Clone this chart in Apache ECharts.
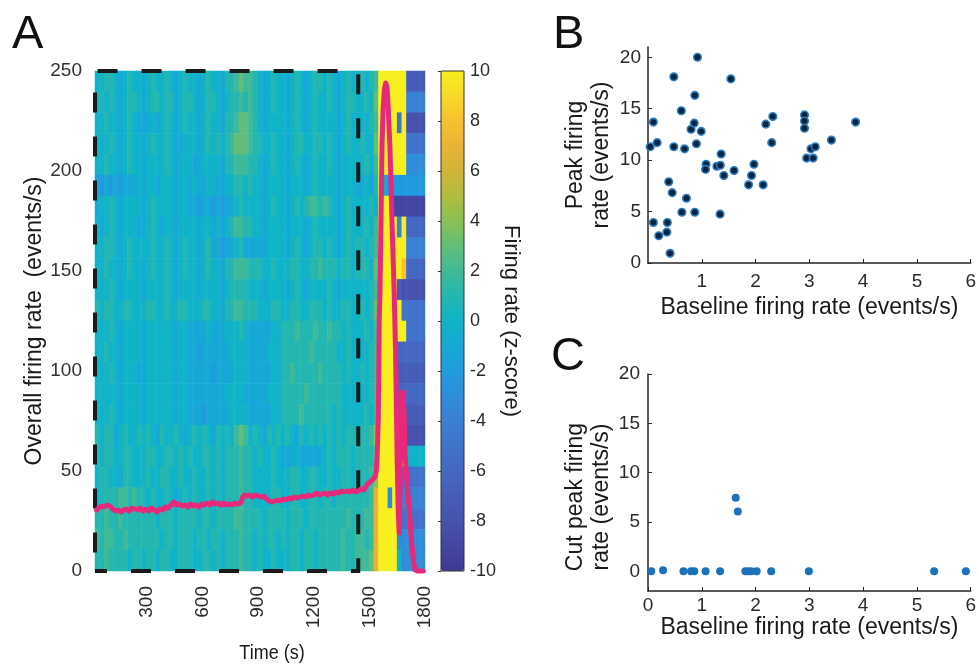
<!DOCTYPE html>
<html><head><meta charset="utf-8">
<script src="https://cdn.jsdelivr.net/npm/echarts@6/dist/echarts.min.js"></script>
<style>html,body{margin:0;padding:0;background:#fff}#c{width:979px;height:666px}</style>
</head><body><div id="c"></div>
<script>
const FONT = "'Liberation Sans', Arial, Helvetica, sans-serif";

// ---------- Panel A: overall firing rate (events/s) over time (s) ----------
const rateTimes = [28,40,55,70,85,100,115,130,145,160,175,190,205,220,235,250,265,280,295,310,325,340,355,370,385,400,415,430,445,460,475,490,505,520,535,550,565,580,595,610,625,640,655,670,685,700,715,730,745,760,775,790,805,815,825,840,855,870,885,900,915,930,945,960,975,990,1005,1020,1035,1050,1065,1080,1095,1110,1125,1140,1155,1170,1185,1200,1215,1230,1245,1260,1275,1290,1305,1320,1335,1350,1365,1380,1395,1410,1425,1440,1455,1470,1480,1490,1500,1510,1520,1530,
  1537,1541,1545,1548,1551,1553,1557,1562,1568,1574,1581,1588,1595,1601,1606,1611,1622,1634,1641,1646,1650,1655,1661,1664,1667,1671,1675,1679,1683,1688,1692,1700,1710,1719,1728,1738,1746,1760,1775,1790];
const rateValues = [30.5,31.5,32.5,32,33,32.5,31,30,30.5,29.5,30.5,31,30,31.5,31,30.5,31.5,30,31,30,31.5,30.5,29.5,31,30.5,32,31.5,33,34.5,33,33.5,32.5,33,32,33.5,32.5,33,32,33.5,33,34,33,34.5,33.5,34,33,34,33,33.5,33,34,33.5,34,36.5,38,37.5,38,37,38,37.5,37,37.5,36,35,34.5,35,35.5,35,36,35.5,36.5,36,37,36.5,37,37.5,37,38,37.5,38,39,38,38.5,39,38,39,38.5,39.5,39,40,39.5,40,39.5,40.5,39.5,40,41,40.5,42,43.5,44,45,46,47,
  50,55.5,66,75.5,100,125.5,139,170,212,231,241,244,242,233,222,212,175,139,110,80,55,32,19,35,55,75,86,89.5,87.5,76,59,48,36,25.5,14,5,0.5,0,0,0];
const timeTicks = [300, 600, 900, 1200, 1500, 1800];
const baselineWindow = [20, 1440];   // dashed box (s)

// ---------- Panel A heatmap: z-scored firing rate, 24 rows x 71 time bins ----------
const heatRows = [
 [0,0,1,1,0,-1,0,1,0,0, -1,0,1,0,0,1,0,-1,0,1, 0,0,-1,0,1,0,0,-1,1,1, 2,3,2,2,1,0,-1,0,1,0, 0,-1,0,1,0,-1,0,1,1,0, 1,0,-1,0,1,0,0, 1,0,1,2,10,10,10,10,10,10,-7,-7,-7,-7],
 [0,1,0,1,0,-1,0,1,1,0, -1,0,1,1,0,1,1,-1,0,1, 1,0,-1,0,1,1,0,-1,0,1, 1,2,1,2,1,0,-1,0,1,0, 0,-1,0,1,0,-1,0,1,0,0, 1,0,-1,0,1,1,0, 0,1,0,3,10,10,10,10,10,10,-4,-4,-4,-4],
 [0,0,1,0,0,-1,0,1,0,-1, -1,-1,0,-1,0,1,0,-1,0,1, 0,0,-1,0,1,0,0,-1,1,1, 2,3,3,2,1,0,-1,0,0,0, 0,-1,0,1,0,-1,0,1,0,0, 0,0,-1,0,1,0,0, 0,0,1,2,10,10,10,10,-5,10,-8,-8,-8,-8],
 [0,0,0,1,0,-1,0,1,0,0, -1,0,1,0,0,1,0,-1,-1,0, 0,0,-1,0,1,0,1,0,1,2, 3,3,3,2,1,1,0,0,1,0, 0,-1,0,1,1,0,0,1,1,0, 1,0,-1,0,1,0,0, 1,0,0,3,10,10,10,10,10,10,-5,-5,-5,-5],
 [0,0,1,0,0,-1,0,1,0,0, -1,0,0,0,0,1,0,-1,0,0, 0,-1,-1,0,0,0,0,-1,1,1, 2,2,2,1,1,0,-1,0,1,0, 0,-1,0,1,0,-1,0,1,0,0, 1,0,-1,0,0,0,0, 0,1,0,2,10,10,10,10,10,10,-3,-3,-3,-3],
 [-2,-2,-1,-2,-1,-2,-1,-1,-1,0, -1,0,0,-1,0,0,0,-1,0,0, -1,0,-1,-1,0,0,-1,-1,0,0, 1,1,0,1,0,0,-1,0,0,0, 0,-1,0,0,0,-1,0,1,0,0, 0,0,-1,0,0,0,-1, -1,0,-1,1,10,-1,-2,-2,-2,-2,-2,-2,-2,-2],
 [-1,0,0,1,0,-1,0,0,0,0, -1,0,1,0,0,0,0,-1,0,0, -1,-1,-2,-1,-1,-2,-1,-2,-1,-1, 0,1,0,0,0,0,-1,0,1,0, 0,-1,0,1,0,1,2,2,1,2, 1,0,-1,0,1,0,0, 0,0,1,0,10,10,10,-9,-9,-9,-9,-9,-9,-9],
 [0,-1,0,1,0,-1,0,0,0,-1, -1,0,1,0,-1,0,0,-1,0,0, 0,0,-1,0,0,-1,0,-1,0,1, 2,2,1,1,0,0,-1,0,0,0, 0,-1,0,0,0,-1,0,1,0,0, 0,0,-1,0,1,0,0, 0,1,0,2,10,10,10,10,-4,10,-6,-6,-6,-6],
 [0,0,1,1,0,-1,0,1,0,0, 0,0,1,0,0,1,0,-1,0,1, 0,0,-1,0,1,-1,-1,-2,-1,-1, 0,1,-1,-1,-1,-1,-1,0,0,0, 0,-1,0,1,0,-1,0,1,1,0, 1,0,-1,0,1,0,1, 1,0,1,2,10,10,10,10,10,10,-4,-4,-4,-4],
 [0,0,1,0,0,-1,0,1,0,0, -1,0,1,0,0,1,0,-1,0,1, 0,0,-1,0,1,0,0,-1,1,1, 2,2,2,1,1,1,0,0,1,0, 0,0,1,1,0,0,1,1,2,1, 1,1,0,1,1,0,1, 1,1,0,3,10,10,10,10,10,8,-6,-6,-6,-6],
 [0,0,0,1,0,-1,0,0,0,0, -1,0,0,0,0,1,0,-1,0,0, 0,0,-1,0,0,0,0,-1,0,1, 1,1,1,0,0,0,-1,0,0,0, 0,-1,0,1,0,-1,0,0,0,0, 1,0,-1,0,0,0,0, 0,0,1,2,10,10,10,10,-7,-8,-8,-8,-8,-8],
 [1,0,1,1,0,0,1,1,0,0, 0,1,1,0,0,1,0,0,1,1, 0,0,0,1,1,0,0,-1,1,1, 2,2,1,1,1,0,0,0,1,1, 0,0,1,1,0,0,1,1,1,0, 1,0,0,1,1,0,0, 1,0,1,3,10,10,10,10,10,-5,-5,-5,-5,-5],
 [0,0,0,1,0,-1,0,0,0,0, -1,0,0,0,0,0,0,-1,0,0, -1,-1,-1,-1,0,-1,-1,-1,0,0, 0,1,0,-1,-1,-1,-1,-1,0,0, 1,1,1,2,1,1,1,2,1,1, 2,1,1,0,1,0,0, 0,1,0,2,10,10,10,10,10,10,-5,-5,-5,-5],
 [0,0,1,0,0,-1,0,0,0,0, -1,0,0,0,0,0,0,-1,0,0, -1,-1,-2,-1,-1,-1,-1,-1,-1,0, 0,0,0,-1,-1,-1,-1,0,0,0, 1,1,1,1,1,1,2,1,1,1, 1,1,0,0,1,0,0, 0,0,1,2,10,10,10,10,-6,-6,-6,-6,-6,-6],
 [0,0,0,1,0,-1,0,0,0,-1, -1,0,0,0,0,0,0,-1,0,0, -1,-1,-1,-1,-1,-2,-1,-1,-1,-1, 0,0,0,-1,-1,-1,-1,-1,0,0, 1,1,2,1,1,1,1,1,2,1, 1,1,1,0,1,0,0, 1,0,1,2,10,10,10,10,-7,-7,-7,-7,-7,-7],
 [0,0,0,0,0,-1,0,0,0,0, -1,0,0,0,0,0,0,-1,0,0, -1,-1,-1,-1,-1,-1,-1,-1,0,0, 0,0,-1,-1,-1,-1,-1,0,0,0, 1,1,1,1,1,2,1,1,1,1, 1,1,1,0,0,0,0, 0,0,1,2,10,10,10,10,-6,-6,-6,-6,-6,-6],
 [0,0,0,1,0,-1,0,0,0,0, -1,0,0,0,0,0,0,-1,0,0, -1,-1,-1,-2,-1,-1,-1,-1,-1,0, 0,0,0,-1,-1,-1,-1,-1,0,0, 1,1,1,1,2,1,1,1,1,1, 1,0,1,0,0,0,0, 0,1,0,2,10,10,10,10,-7,-7,-7,-7,-7,-7],
 [1,0,1,1,-1,0,1,0,0,1, 0,1,0,-1,1,0,0,1,0,-1, 0,1,0,1,0,-1,1,0,1,0, 2,3,2,0,1,0,-1,1,0,1, 0,1,0,-1,1,0,1,0,1,0, 1,0,1,0,1,1,0, 1,1,2,4,10,10,10,10,6,4,-8,-8,-8,-8],
 [1,0,1,1,0,0,1,1,0,0, 0,1,1,0,0,1,1,0,1,0, 1,0,0,1,1,0,1,0,1,1, 1,2,1,1,0,1,0,0,1,0, -1,-1,-1,0,-1,-1,-1,-1,-1,0, 1,0,1,1,1,0,1, 1,1,1,3,10,10,10,10,10,10,0,0,0,0],
 [0,1,1,0,0,-1,1,1,0,0, 0,1,0,0,1,1,0,0,1,0, 0,1,0,0,1,0,1,0,1,1, 1,2,1,1,0,0,0,0,1,0, 0,0,1,1,0,0,1,1,0,0, 1,0,0,1,1,0,1, 1,1,2,4,10,10,10,10,-5,-5,-5,-5,-5,-5],
 [0,1,1,1,1,2,2,1,2,1, 1,0,1,0,0,1,0,-1,0,1, 0,1,0,0,1,0,1,0,1,1, 1,2,1,1,0,0,0,0,1,1, 0,0,1,1,0,0,1,1,0,1, 1,0,1,1,1,1,1, 1,1,2,7,10,10,-3,10,-4,-4,-4,-4,-4,-4],
 [1,1,2,1,1,2,1,1,1,1, 1,1,1,0,1,1,1,0,1,1, 1,1,0,1,1,0,1,1,1,1, 2,2,1,1,1,1,0,1,1,1, 1,0,1,1,1,0,1,1,1,1, 1,1,1,1,2,1,1, 1,2,2,7,10,10,10,10,-5,-5,-5,-5,-5,-5],
 [2,1,2,2,1,1,2,1,1,1, 1,1,1,1,0,1,1,0,1,1, 1,0,1,1,0,1,1,0,1,1, 1,2,1,1,0,1,0,1,1,0, 1,0,1,1,0,1,1,0,1,1, 1,1,1,2,1,1,2, 2,1,2,7,10,10,10,10,-3,-3,-3,-3,-3,-3],
 [1,1,2,1,1,1,1,0,1,1, 0,1,1,0,1,1,0,0,1,1, 1,0,0,1,1,0,1,0,1,1, 1,2,1,1,0,1,0,0,1,0, 0,0,1,1,0,1,1,0,1,1, 1,1,1,2,1,1,2, 2,2,3,7,10,10,10,10,0,-3,-3,-3,-3,-3]
];
const zTicks = [-10, -8, -6, -4, -2, 0, 2, 4, 6, 8, 10];
const parula = ['#3e3a93','#4346a2','#4652ae','#465db8','#4468c2','#4073cb','#3a80d3','#2f8dda','#219bdf','#16a8d6',
                '#10b3c7','#24b6b0','#3fba98','#62be78','#8ac053','#b0bd3f','#d1b438','#eab336','#f8c030','#f8d828','#f7ef1e'];

// ---------- Panel B ----------
const baseB = [0.04,0.10,0.10,0.17,0.20,0.35,0.36,0.385,0.41,0.45,0.48,0.48,0.62,0.63,0.68,0.715,0.80,0.86,0.87,0.87,0.90,0.92,0.99,1.08,1.07,1.28,1.345,1.36,1.34,1.41,1.54,1.60,1.87,1.925,1.97,2.14,2.19,2.30,2.32,2.91,2.91,2.91,2.95,3.03,3.07,3.11,3.41,3.86];
const peakB = [11.3,13.7,3.94,11.7,2.65,3.0,3.94,7.9,0.94,6.84,18.1,11.3,14.8,4.94,11.1,6.3,13.0,13.6,16.3,4.94,11.6,20.0,12.8,9.6,9.1,9.4,9.5,10.6,4.75,8.5,17.9,9.0,7.6,8.5,9.6,7.6,13.5,11.7,14.25,14.4,13.8,13.1,10.2,11.1,10.2,11.3,11.95,13.7];
const bYTicks = [0, 5, 10, 15, 20];
const bXTicks = [1, 2, 3, 4, 5, 6];

// ---------- Panel C ----------
const baseC = [0.06,0.28,0.66,0.80,0.86,1.07,1.34,1.63,1.67,1.81,1.86,1.92,2.02,2.29,2.99,5.32,5.91];
const cutC  = [0,0.1,0,0,0,0,0,7.45,6.05,0,0,0,0,0,0,0,0];
const cYTicks = [0, 5, 10, 15, 20];

// ---------- build ----------
const nCols = heatRows[0].length;
const heatCols = Array.from({length: nCols}, (_, i) => String(i));
const heatRowIdx = heatRows.map((_, i) => String(i));
const heatData = [];
heatRows.forEach((row, r) => row.forEach((z, c) => heatData.push([c, r, z])));
const linePts = rateTimes.map((t, i) => [t, rateValues[i]]);
const ptsB = baseB.map((x, i) => [x, peakB[i]]);
const ptsC = baseC.map((x, i) => [x, cutC[i]]);

const ink = '#262626';
const plain = v => String(v);
const lbl = (size, extra) => Object.assign({color: '#2b2b2b', fontFamily: FONT, fontSize: size}, extra || {});
const axLine = {show: true, onZero: false, lineStyle: {color: ink, width: 1.5}};
const titleStyle = (size, extra) => Object.assign({fontSize: size, color: '#1a1a1a', fontFamily: FONT}, extra || {});

const chart = echarts.init(document.getElementById('c'), null, {renderer: 'canvas'});
chart.setOption({
  animation: false,
  backgroundColor: '#ffffff',
  textStyle: {fontFamily: FONT},
  grid: [
    {left: 95, top: 71, width: 330, height: 500, containLabel: false},
    {left: 95, top: 71, width: 330, height: 500, containLabel: false},
    {left: 441, top: 71, width: 23, height: 500, show: true, z: 6, borderColor: '#333', borderWidth: 1, backgroundColor: 'transparent'},
    {left: 648, top: 47, width: 327, height: 216},
    {left: 648, top: 374, width: 324, height: 217}
  ],
  visualMap: {
    type: 'continuous', min: -10, max: 10, seriesIndex: 0, calculable: false, hoverLink: false,
    left: 441, top: 71, itemWidth: 23, itemHeight: 500, padding: 0, text: null, orient: 'vertical',
    inRange: {color: parula}, z: 4
  },
  xAxis: [
    {gridIndex: 0, type: 'value', min: 20, max: 1800,
     axisLine: {show: false}, axisTick: {show: false}, splitLine: {show: false},
     axisLabel: lbl(19, {rotate: 90, margin: 15, customValues: timeTicks, formatter: plain})},
    {gridIndex: 1, type: 'category', data: heatCols, show: false},
    {gridIndex: 2, type: 'value', show: false, min: 0, max: 1},
    {gridIndex: 3, type: 'value', min: 0, max: 6, axisLine: axLine,
     axisTick: {show: true, inside: true, length: 4, lineStyle: {color: ink}, customValues: bXTicks},
     splitLine: {show: false}, axisLabel: lbl(19, {margin: 9, customValues: bXTicks}),
     name: 'Baseline firing rate (events/s)', nameLocation: 'middle', nameGap: 33,
     nameTextStyle: titleStyle(23)},
    {gridIndex: 4, type: 'value', min: 0, max: 6, interval: 1, axisLine: axLine,
     axisTick: {show: true, inside: true, length: 4, lineStyle: {color: ink}},
     splitLine: {show: false}, axisLabel: lbl(19, {margin: 5}),
     name: 'Baseline firing rate (events/s)', nameLocation: 'middle', nameGap: 24,
     nameTextStyle: titleStyle(23)}
  ],
  yAxis: [
    {gridIndex: 0, type: 'value', min: 0, max: 250, interval: 50,
     axisLine: {show: false}, axisTick: {show: true, inside: true, length: 4, lineStyle: {color: ink}},
     splitLine: {show: false}, axisLabel: lbl(19, {margin: 13, color: '#333'}),
     name: 'Overall firing rate  (events/s)', nameLocation: 'middle', nameGap: 48,
     nameTextStyle: titleStyle(23)},
    {gridIndex: 1, type: 'category', data: heatRowIdx, inverse: true, show: false},
    {gridIndex: 2, type: 'value', min: -10, max: 10, position: 'right',
     axisLine: {show: false}, axisTick: {show: true, inside: true, length: 3, lineStyle: {color: '#333'}, customValues: zTicks},
     splitLine: {show: false}, axisLabel: lbl(18, {margin: 6, customValues: zTicks}),
     name: 'Firing rate (z-score)', nameLocation: 'middle', nameRotate: -90, nameGap: 27,
     nameTextStyle: titleStyle(22)},
    {gridIndex: 3, type: 'value', min: 0, max: 21, axisLine: axLine,
     axisTick: {show: true, inside: true, length: 4, lineStyle: {color: ink}, customValues: bYTicks},
     splitLine: {show: false}, axisLabel: lbl(19, {margin: 7, customValues: bYTicks}),
     name: 'Peak firing\nrate (events/s)', nameLocation: 'middle', nameGap: 33,
     nameTextStyle: titleStyle(23, {lineHeight: 26.5})},
    {gridIndex: 4, type: 'value', min: -2, max: 20, axisLine: axLine,
     axisTick: {show: true, inside: true, length: 4, lineStyle: {color: ink}, customValues: cYTicks},
     splitLine: {show: false}, axisLabel: lbl(19, {margin: 8, customValues: cYTicks}),
     name: 'Cut peak firing\nrate (events/s)', nameLocation: 'middle', nameGap: 33,
     nameTextStyle: titleStyle(23, {lineHeight: 26.5, padding: [0, 29, 0, 0]})}
  ],
  series: [
    {type: 'heatmap', xAxisIndex: 1, yAxisIndex: 1, data: heatData, progressive: 0, z: 1,
     itemStyle: {borderWidth: 0}, emphasis: {disabled: true}, silent: true},
    {type: 'line', xAxisIndex: 0, yAxisIndex: 0, data: linePts, showSymbol: false, symbol: 'none', z: 5, clip: false,
     lineStyle: {color: '#e7297b', width: 5, join: 'round', cap: 'round'}, silent: true,
     markArea: {silent: true, z: 4,
       itemStyle: {color: 'rgba(0,0,0,0)', borderColor: '#1a1a1a', borderWidth: 4, borderType: [20, 24], borderDashOffset: 8},
       data: [[{coord: [baselineWindow[0], 0]}, {coord: [baselineWindow[1], 250]}]]}},
    {type: 'scatter', xAxisIndex: 3, yAxisIndex: 3, data: ptsB, symbolSize: 7.5, silent: true,
     itemStyle: {color: '#0c2340', borderColor: '#2b7cc0', borderWidth: 1.6, opacity: 1}},
    {type: 'scatter', xAxisIndex: 4, yAxisIndex: 4, data: ptsC, symbolSize: 8, silent: true,
     itemStyle: {color: '#1c72ba', opacity: 1}}
  ],
  graphic: [
    {type: 'text', left: 12, top: 12, style: {text: 'A', font: '47px ' + FONT, fill: '#111'}},
    {type: 'text', left: 553, top: 12, style: {text: 'B', font: '47px ' + FONT, fill: '#111'}},
    {type: 'text', left: 551, top: 334, style: {text: 'C', font: '47px ' + FONT, fill: '#111'}},
    {type: 'text', x: 272, y: 653, scaleY: 1.15, style: {text: 'Time (s)', font: '18px ' + FONT, fill: '#1a1a1a', align: 'center', verticalAlign: 'middle'}}
  ]
});
</script>
</body></html>
